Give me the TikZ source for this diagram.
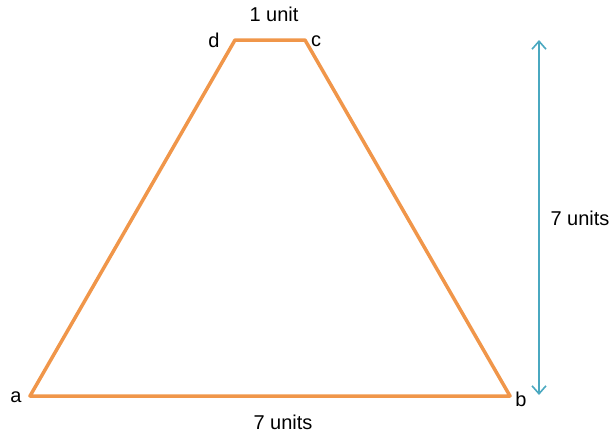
\documentclass[tikz,border=0pt]{standalone}
\usepackage{fontspec}
\setmainfont{Liberation Sans}
\usetikzlibrary{arrows.meta}
\definecolor{trap}{HTML}{F0964A}
\definecolor{teal}{HTML}{4AA8C0}
\begin{document}
\begin{tikzpicture}[x=1pt,y=-1pt,
  lbl/.style={inner sep=0pt,font=\fontsize{20}{22}\selectfont},
  edge/.style={draw=trap,line width=3.5pt,line join=round,line cap=round},
  dim/.style={draw=teal,line width=1.6pt,{Straight Barb[length=8pt,width=14pt]}-{Straight Barb[length=8pt,width=14pt]}}]
\useasboundingbox (0,0) rectangle (610,437);
\coordinate (a) at (30,396);
\coordinate (b) at (510,396);
\coordinate (c) at (305,40);
\coordinate (d) at (235,40);
\draw[edge] (a) -- (b) -- (c) -- (d) -- cycle;
\coordinate (t) at (539,40);
\coordinate (u) at (539,395);
\draw[dim] (u) -- (t);
\node[lbl] (la) at (16,397) {a};
\node[lbl] (lb) at (521,399) {b};
\node[lbl] (lc) at (316,41) {c};
\node[lbl] (ld) at (214,40) {d};
\node[lbl] (top) at (274,14) {1 unit};
\node[lbl] (bot) at (283,422) {7 units};
\node[lbl] (side) at (580,218) {7 units};
\end{tikzpicture}
\end{document}
